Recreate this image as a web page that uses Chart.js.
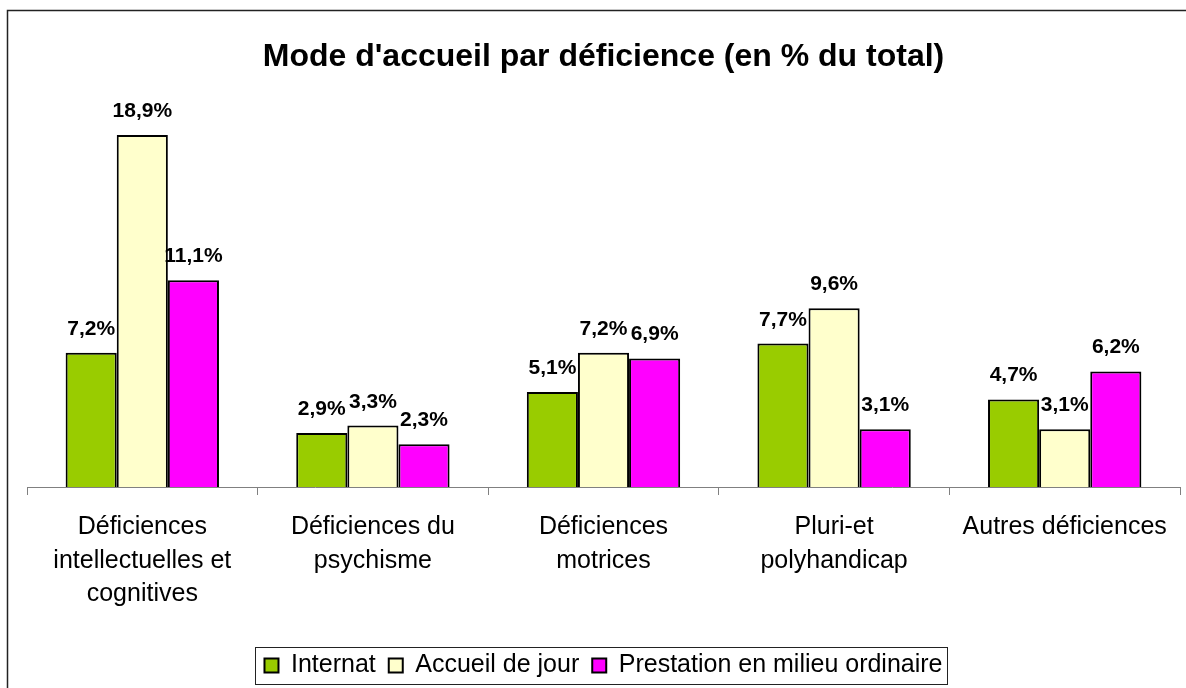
<!DOCTYPE html>
<html>
<head>
<meta charset="utf-8">
<script src="https://cdn.jsdelivr.net/npm/chart.js@4/dist/chart.umd.min.js"></script>
<style>
  html, body { margin: 0; padding: 0; background: #fff; }
  #wrap { width: 1186px; height: 688px; }
</style>
</head>
<body>
<div id="wrap"><canvas id="chart"></canvas></div>
<script>
const categories = [
  ['Déficiences', 'intellectuelles et', 'cognitives'],
  ['Déficiences du', 'psychisme'],
  ['Déficiences', 'motrices'],
  ['Pluri-et', 'polyhandicap'],
  ['Autres déficiences']
];
const internat = [7.2, 2.9, 5.1, 7.7, 4.7];
const accueilJour = [18.9, 3.3, 7.2, 9.6, 3.1];
const milieuOrdinaire = [11.1, 2.3, 6.9, 3.1, 6.2];

const FONT = "'Liberation Sans', Arial, sans-serif";

// frame around the whole picture (cut at right and bottom)
const framePlugin = {
  id: 'frame',
  beforeDraw(chart) {
    const c = chart.ctx;
    c.save();
    c.fillStyle = '#fff';
    c.fillRect(0, 0, chart.width, chart.height);
    c.strokeStyle = '#222';
    c.lineWidth = 1.5;
    c.strokeRect(7.5, 10.5, chart.width + 20, chart.height + 20);
    c.restore();
  }
};

// value labels above each bar
const valueLabels = {
  id: 'valueLabels',
  afterDatasetsDraw(chart) {
    const c = chart.ctx;
    c.save();
    c.font = 'bold 21px ' + FONT;
    c.fillStyle = '#000';
    c.textAlign = 'center';
    c.textBaseline = 'alphabetic';
    chart.data.datasets.forEach((ds, i) => {
      chart.getDatasetMeta(i).data.forEach((bar, j) => {
        const txt = ds.data[j].toFixed(1).replace('.', ',') + '%';
        c.fillText(txt, bar.x, bar.y - 18);
      });
    });
    c.restore();
  }
};

// box around the legend
const legendBox = {
  id: 'legendBox',
  afterDraw(chart) {
    const boxes = chart.legend.legendHitBoxes;
    if (!boxes || !boxes.length) return;
    const left = boxes[0].left - 9;
    const last = boxes[boxes.length - 1];
    const right = last.left + last.width + 5;
    const mid = boxes[0].top + boxes[0].height / 2;
    const c = chart.ctx;
    c.save();
    c.strokeStyle = '#222';
    c.lineWidth = 1;
    c.strokeRect(Math.round(left) + 0.5, Math.round(mid - 19) + 0.5, Math.round(right - left), 37);
    c.restore();
  }
};

new Chart(document.getElementById('chart'), {
  type: 'bar',
  data: {
    labels: categories,
    datasets: [
      { label: 'Internat', data: internat, backgroundColor: '#99CC00', borderColor: '#000', borderWidth: 2 },
      { label: 'Accueil de jour', data: accueilJour, backgroundColor: '#FFFFCC', borderColor: '#000', borderWidth: 2 },
      { label: 'Prestation en milieu ordinaire', data: milieuOrdinaire, backgroundColor: '#FF00FF', borderColor: '#000', borderWidth: 2 }
    ]
  },
  options: {
    responsive: true,
    maintainAspectRatio: false,
    animation: false,
    layout: { padding: { left: 27, right: 6, top: 10, bottom: 0 } },
    datasets: { bar: { categoryPercentage: 0.665, barPercentage: 1 } },
    plugins: {
      title: {
        display: true,
        text: "Mode d'accueil par déficience (en % du total)",
        color: '#000',
        font: { family: FONT, size: 32, weight: 'bold' },
        padding: { top: 28, bottom: 38 }
      },
      legend: {
        position: 'bottom',
        labels: {
          color: '#000',
          font: { family: FONT, size: 25 },
          boxWidth: 14,
          boxHeight: 14,
          padding: 13
        }
      },
      tooltip: { enabled: false }
    },
    scales: {
      x: {
        grid: { display: true, drawOnChartArea: false, color: '#808080', tickLength: 8, offset: true },
        border: { color: '#808080', width: 1 },
        ticks: {
          color: '#000',
          font: { family: FONT, size: 25, lineHeight: 1.35 },
          padding: 15,
          maxRotation: 0,
          autoSkip: false
        },
        afterFit(scale) { scale.height = 153; }
      },
      y: {
        display: false,
        min: 0,
        max: 20
      }
    }
  },
  plugins: [framePlugin, valueLabels, legendBox]
});
</script>
</body>
</html>
